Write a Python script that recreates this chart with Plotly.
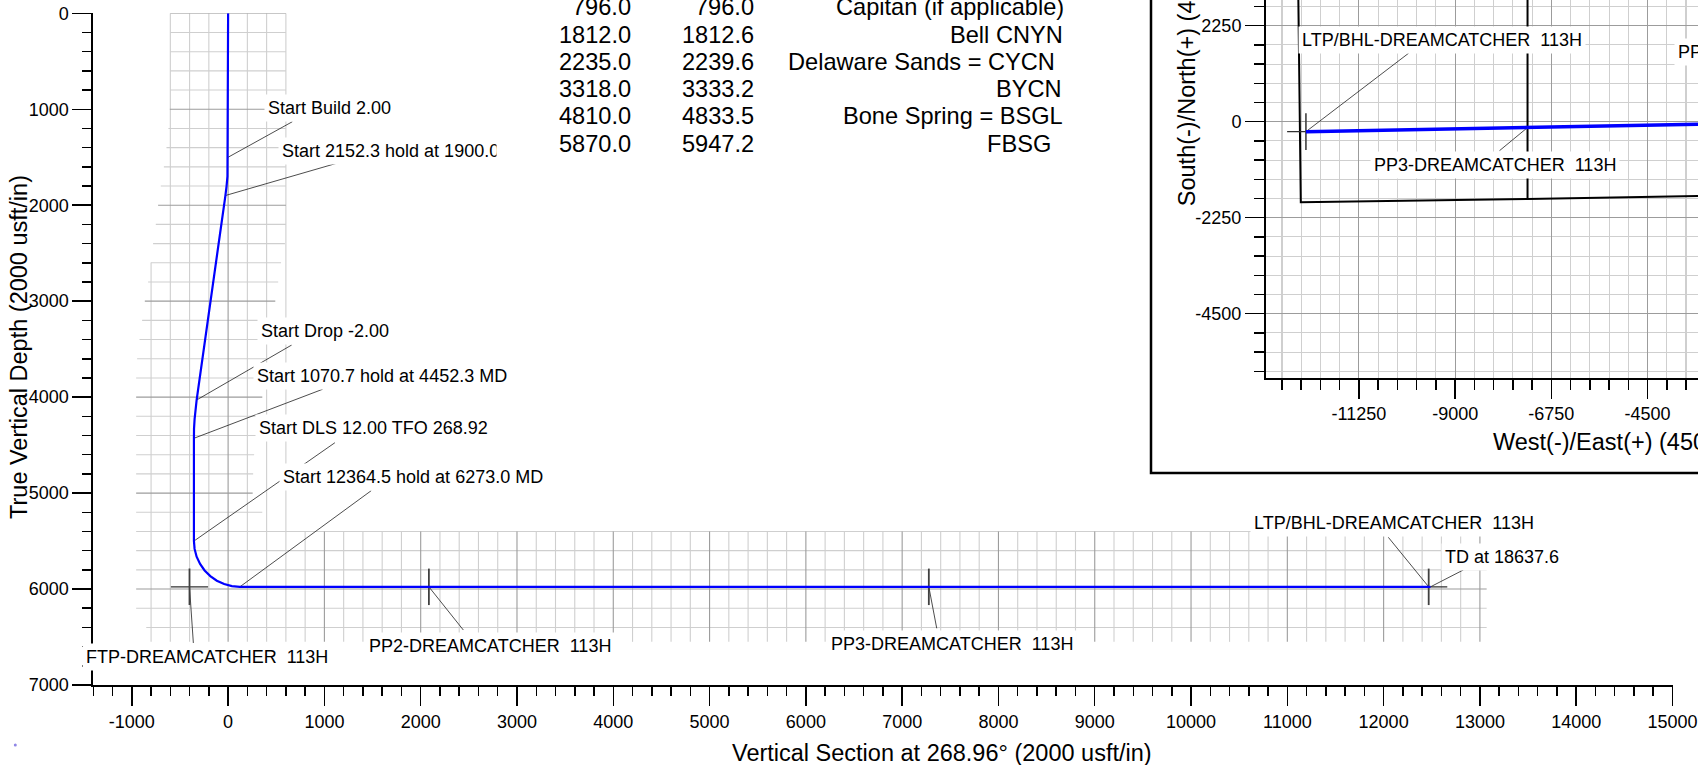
import plotly.graph_objects as go

W, H = 1698, 765
FONT = "Liberation Sans, Arial, sans-serif"

# ---------------- data ----------------
# well path in the vertical section (VS, TVD), usft
path_vs = [0, 0, -2, -7, -16, -28, -327, -340, -348, -354, -355, -355,
           -348, -327, -291, -244, -185, -117, -41, 39, 122, 12487]
path_tvd = [0, 1500, 1600, 1700, 1800, 1899, 4030, 4129, 4229, 4329, 4429, 5500,
            5582, 5663, 5738, 5806, 5865, 5913, 5948, 5970, 5977, 5977]

# survey-point annotations
ann_text = ["Start Build 2.00", "Start 2152.3 hold at 1900.0 MD", "Start Drop -2.00",
            "Start 1070.7 hold at 4452.3 MD", "Start DLS 12.00 TFO 268.92",
            "Start 12364.5 hold at 6273.0 MD", "TD at 18637.6"]
ann_vs = [0, -28, -327, -355, -355, 122, 12487]
ann_tvd = [1500, 1899, 4030, 4429, 5500, 5977, 5977]

# targets
tgt_name = ["FTP-DREAMCATCHER  113H", "PP2-DREAMCATCHER  113H",
            "PP3-DREAMCATCHER  113H", "LTP/BHL-DREAMCATCHER  113H"]
tgt_vs = [-401, 2085, 7277, 12468]
tgt_tvd = [5977, 5977, 5977, 5977]

# formation table
form_tvd = [796.0, 1812.0, 2235.0, 3318.0, 4810.0, 5870.0]
form_md = [796.0, 1812.6, 2239.6, 3333.2, 4833.5, 5947.2]
form_name = ["Capitan (if applicable)", "Bell CNYN", "Delaware Sands = CYCN",
             "BYCN", "Bone Spring = BSGL", "FBSG"]

# axis ticks
x_tick_vals = [-1000, 0, 1000, 2000, 3000, 4000, 5000, 6000, 7000, 8000, 9000,
               10000, 11000, 12000, 13000, 14000, 15000]
x_tick_text = ["-1000", "0", "1000", "2000", "3000", "4000", "5000", "6000", "7000",
               "8000", "9000", "10000", "11000", "12000", "13000", "14000", "15000"]
y_tick_vals = [0, 1000, 2000, 3000, 4000, 5000, 6000, 7000]
y_tick_text = ["0", "1000", "2000", "3000", "4000", "5000", "6000", "7000"]

# local grid around the well path (horizontal lines: TVD, left VS, right VS)
gh_tvd = [0, 200, 400, 600, 800, 1000, 1200, 1400, 1600, 1800, 2000, 2200, 2400, 2600,
          2800, 3000, 3200, 3400, 3600, 3800, 4000, 4200, 4400, 4600, 4800, 5000, 5200,
          5400, 5600, 5800, 6000, 6200, 6400]
gh_left = [-600, -600, -600, -600, -600, -605, -620, -640, -667, -699, -727, -751, -779,
           -803, -831, -865, -893, -920, -945, -955, -955, -955, -955, -955, -955, -955,
           -955, -955, -955, -955, -955, -955, -850]
gh_right = [600, 600, 600, 600, 600, 600, 600, 600, 600, 600, 600, 600, 590, 550, 520,
            490, 470, 440, 420, 390, 355, 330, 300, 270, 260, 255, 355,
            13070, 13070, 13070, 13070, 13070, 13070]
# vertical lines near the vertical hole: VS, top TVD, bottom TVD
gv_vs = [-800, -600, -400, -200, 0, 200, 400, 600]
gv_top = [2600, 0, 0, 0, 0, 0, 0, 0]
gv_bot = [6550, 6550, 6550, 6550, 6550, 6550, 6550, 6550]
# vertical lines along the lateral
gvl_vs = list(range(800, 13001, 200))
gvl_top = 5400
gvl_bot = 6550

# plan view
plan_ew = [0, -2085, -7307, -12490]
plan_ns = [0, -39, -137, -234]
lease_ew = [-12675, -12610, -7307, -3320, -1000]
lease_ns = [3500, -1889, -1812, -1741, -1700]
sect_ew = [-7307, -7307]
sect_ns = [3500, -1812]
px_tick_vals = [-11250, -9000, -6750, -4500]
px_tick_text = ["-11250", "-9000", "-6750", "-4500"]
py_tick_vals = [2250, 0, -2250, -4500]
py_tick_text = ["2250", "0", "-2250", "-4500"]
plan_lbl = ["LTP/BHL-DREAMCATCHER  113H", "PP3-DREAMCATCHER  113H", "PP2-DREAMCATCHER  113H"]
plan_lbl_ew = [-12490, -7307, -2085]
plan_lbl_ns = [-234, -137, -39]

# ---------------- helpers ----------------
def px(x):
    return x / W

def py(y):
    return 1 - y / H

MINOR = "#cfcfcf"
MAJOR = "#9c9c9c"

def seg_trace(xs0, xs1, ys0, ys1, color, width, xa="x", ya="y"):
    X, Y = [], []
    for a, b, c, d in zip(xs0, xs1, ys0, ys1):
        X += [a, b, None]
        Y += [c, d, None]
    return go.Scatter(x=X, y=Y, mode="lines", line=dict(color=color, width=width),
                      hoverinfo="skip", showlegend=False, xaxis=xa, yaxis=ya)

fig = go.Figure()

# grid, minor then major
for major in (False, True):
    hx0, hx1, hy0, hy1 = [], [], [], []
    for t, l, r in zip(gh_tvd, gh_left, gh_right):
        if (t % 1000 == 0) == major:
            hx0.append(l); hx1.append(r); hy0.append(t); hy1.append(t)
    vx, vt, vb = [], [], []
    for v, t0, t1 in zip(gv_vs, gv_top, gv_bot):
        if (v % 1000 == 0) == major:
            vx.append(v); vt.append(t0); vb.append(t1)
    for v in gvl_vs:
        if (v % 1000 == 0) == major:
            vx.append(v); vt.append(gvl_top); vb.append(gvl_bot)
    col = MAJOR if major else MINOR
    fig.add_trace(seg_trace(hx0, hx1, hy0, hy1, col, 1.1))
    fig.add_trace(seg_trace(vx, vx, vt, vb, col, 1.1))

# leader lines (main)
lead_end_vs = [667, 1128, 660, 982, 1109, 1486, 12828]
lead_end_tvd = [1130, 1563, 3457, 3918, 4475, 4975, 5801]
fig.add_trace(seg_trace(ann_vs, lead_end_vs, ann_tvd, lead_end_tvd, "#202020", 0.8))
tlead_vs = [-361, 2443, 7359, 12049]
tlead_tvd = [6562, 6427, 6409, 5461]
fig.add_trace(seg_trace(tgt_vs, tlead_vs, tgt_tvd, tlead_tvd, "#202020", 0.8))

# target crosses
cx0 = [v - 193 for v in tgt_vs]
cx1 = [v + 193 for v in tgt_vs]
fig.add_trace(seg_trace(cx0, cx1, tgt_tvd, tgt_tvd, "#303030", 1.2))
fig.add_trace(seg_trace(tgt_vs, tgt_vs, [t - 190 for t in tgt_tvd], [t + 190 for t in tgt_tvd],
                        "#404040", 1.8))

# well path
fig.add_trace(go.Scatter(x=path_vs, y=path_tvd, mode="lines",
                         line=dict(color="#0000ff", width=2.2), hoverinfo="skip",
                         showlegend=False))

# ---------- plan view inset ----------
fig.add_trace(go.Scatter(x=lease_ew, y=lease_ns, mode="lines", line=dict(color="black", width=2),
                         xaxis="x2", yaxis="y2", showlegend=False, hoverinfo="skip"))
fig.add_trace(go.Scatter(x=sect_ew, y=sect_ns, mode="lines", line=dict(color="black", width=2),
                         xaxis="x2", yaxis="y2", showlegend=False, hoverinfo="skip"))
plead_ew = [-10090, -7963, -1500]
plead_ns = [1603, -680, 1500]
fig.add_trace(seg_trace(plan_lbl_ew, plead_ew, plan_lbl_ns, plead_ns, "#202020", 0.8, "x2", "y2"))
fig.add_trace(seg_trace([plan_lbl_ew[0] - 440], [plan_lbl_ew[0] + 440], [plan_lbl_ns[0]], [plan_lbl_ns[0]],
                        "#303030", 1.2, "x2", "y2"))
fig.add_trace(seg_trace([plan_lbl_ew[0]], [plan_lbl_ew[0]], [plan_lbl_ns[0] - 430], [plan_lbl_ns[0] + 430],
                        "#404040", 1.6, "x2", "y2"))
fig.add_trace(go.Scatter(x=plan_ew, y=plan_ns, mode="lines", line=dict(color="#0000ff", width=3.5),
                         xaxis="x2", yaxis="y2", showlegend=False, hoverinfo="skip"))

# ---------------- annotations ----------------
annots = []
lbl_vs = [370, 521, 302, 255, 283, 533, 12596]
lbl_tvd = [990, 1432, 3311, 3780, 4325, 4835, 5663]
for t, x, y in zip(ann_text, lbl_vs, lbl_tvd):
    annots.append(dict(text=t, x=x, y=y, xref="x", yref="y", xanchor="left", yanchor="middle",
                       showarrow=False, bgcolor="white", borderpad=3,
                       font=dict(size=18, color="black", family=FONT)))
tl_vs = [-224, 2720, 7518, 12108]
tl_tvd = [6708, 6590, 6573, 5315]
for t, x, y in zip(tgt_name, tl_vs, tl_tvd):
    annots.append(dict(text=t, x=x, y=y, xref="x", yref="y", xanchor="center", yanchor="middle",
                       showarrow=False, bgcolor="white", borderpad=3,
                       font=dict(size=18, color="black", family=FONT)))
# plan labels
pl_ew = [-9297, -8064, -3870]
pl_ns = [1915, -1015, 1641]
pl_anchor = ["center", "center", "left"]
for t, x, y, a in zip(plan_lbl, pl_ew, pl_ns, pl_anchor):
    annots.append(dict(text=t, x=x, y=y, xref="x2", yref="y2", xanchor=a, yanchor="middle",
                       showarrow=False, bgcolor="white", borderpad=3,
                       font=dict(size=18, color="black", family=FONT)))

# white block of the formation table (hides the tail of a label)
annots.append(dict(text=" ", x=px(496), y=1, xref="paper", yref="paper", xanchor="left",
                   yanchor="top", width=594, height=162, bgcolor="white", borderpad=0,
                   showarrow=False))
row_y = [7.5, 34.7, 61.9, 89.1, 116.3, 143.5]
name_right = [1066, 1065.2, 1056.5, 1064.1, 1065.2, 1052.5]
for tv, md, nm, ry, nr in zip(form_tvd, form_md, form_name, row_y, name_right):
    for txt, xr in ((f"{tv:.1f}", 632.5), (f"{md:.1f}", 756), (nm, nr)):
        annots.append(dict(text=txt, x=px(xr), y=py(ry), xref="paper", yref="paper",
                           xanchor="right", yanchor="middle", showarrow=False,
                           font=dict(size=23.6, color="black", family=FONT)))

# axis titles
TF = dict(size=23.5, color="black", family=FONT)
annots.append(dict(text="True Vertical Depth (2000 usft/in)", x=px(19.5), y=py(347.5),
                   xref="paper", yref="paper", textangle=-90, showarrow=False,
                   xanchor="center", yanchor="middle", font=TF))
annots.append(dict(text="Vertical Section at 268.96° (2000 usft/in)", x=px(942.4), y=py(752.6),
                   xref="paper", yref="paper", showarrow=False,
                   xanchor="center", yanchor="middle", font=TF))
annots.append(dict(text="South(-)/North(+) (4500 usft/in)", x=px(1186.7), y=py(45.5),
                   xref="paper", yref="paper", textangle=-90, showarrow=False,
                   xanchor="center", yanchor="middle", font=TF))
annots.append(dict(text="West(-)/East(+) (4500 usft/in)", x=px(1491), y=py(441.7),
                   xref="paper", yref="paper", showarrow=False,
                   xanchor="left", yanchor="middle", font=TF))

shapes = [
    dict(type="rect", xref="paper", yref="paper", x0=px(1151), x1=px(1720), y0=py(473), y1=py(-20),
         fillcolor="white", line=dict(color="black", width=2.5), layer="below"),
    dict(type="circle", xref="paper", yref="paper", x0=px(13.8), x1=px(16.8), y0=py(746.5), y1=py(743.5),
         fillcolor="#8f86e6", line=dict(width=0)),
]

tickfont = dict(size=18, color="black", family=FONT)
axis_common = dict(showgrid=False, zeroline=False, showline=True, linecolor="black", linewidth=2,
                   ticks="outside", ticklen=19, tickwidth=1.5, tickcolor="black",
                   tickmode="array", tickfont=tickfont, fixedrange=True, automargin=False)

fig.update_layout(
    width=W, height=H,
    margin=dict(l=0, r=0, t=0, b=0, pad=0, autoexpand=False),
    paper_bgcolor="white", plot_bgcolor="rgba(0,0,0,0)",
    showlegend=False,
    font=dict(family=FONT, color="black"),
    xaxis=dict(domain=[px(93.3), px(1672.5)], range=[-1400, 15000], anchor="y",
               tickvals=x_tick_vals, ticktext=x_tick_text,
               minor=dict(tickmode="linear", tick0=0, dtick=200, ticks="outside", ticklen=9,
                          tickwidth=1.5, tickcolor="black", showgrid=False),
               **axis_common),
    yaxis=dict(domain=[py(685), py(13.3)], range=[7000, 0], anchor="x",
               tickvals=y_tick_vals, ticktext=y_tick_text,
               minor=dict(tickmode="linear", tick0=0, dtick=200, ticks="outside", ticklen=9,
                          tickwidth=1.5, tickcolor="black", showgrid=False),
               **axis_common),
    xaxis2=dict(domain=[px(1266), 1.0], range=[-13424, -3320], anchor="y2",
                tickvals=px_tick_vals, ticktext=px_tick_text,
                minor=dict(tickmode="linear", tick0=0, dtick=450, ticks="outside", ticklen=10,
                           tickwidth=1.5, tickcolor="black", showgrid=True, gridcolor=MINOR,
                           gridwidth=1.1),
                **{**axis_common, "showgrid": True, "gridcolor": MAJOR, "gridwidth": 1.1}),
    yaxis2=dict(domain=[py(377.7), 1.0], range=[-6000, 2852], anchor="x2",
                tickvals=py_tick_vals, ticktext=py_tick_text,
                minor=dict(tickmode="linear", tick0=0, dtick=450, ticks="outside", ticklen=10,
                           tickwidth=1.5, tickcolor="black", showgrid=True, gridcolor=MINOR,
                           gridwidth=1.1),
                **{**axis_common, "showgrid": True, "gridcolor": MAJOR, "gridwidth": 1.1}),
    annotations=annots,
    shapes=shapes,
)

fig.write_html("out.html", config={"displayModeBar": False, "staticPlot": True},
               post_script="document.body.style.margin='0';document.body.style.overflow='hidden';")
